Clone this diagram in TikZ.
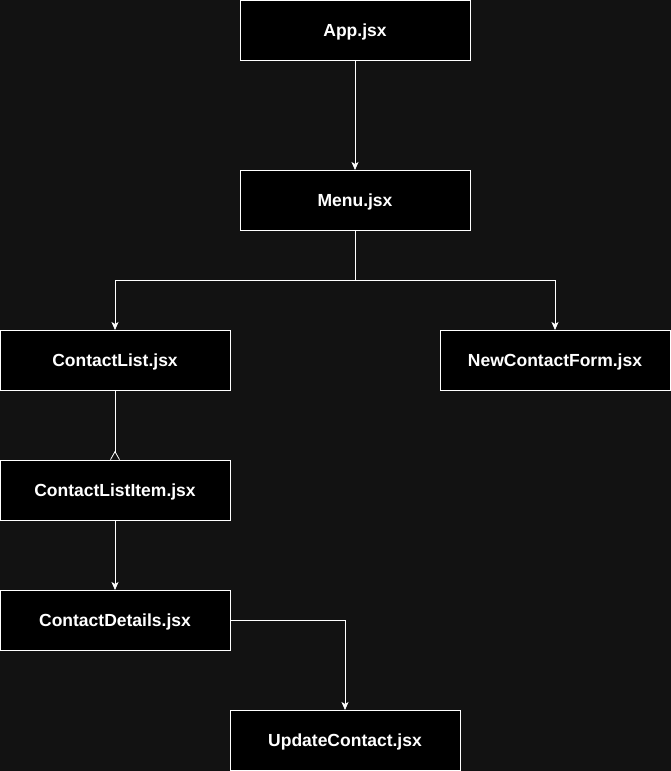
\documentclass[tikz,border=0pt]{standalone}
\usepackage{fontspec}
\setmainfont{Liberation Sans}
\usetikzlibrary{arrows.meta,positioning,calc}
\definecolor{canvasbg}{RGB}{18,18,18}
\tikzset{
    filebox/.style={draw=white, fill=black, text=white, font=\bfseries\fontsize{17.5}{20}\selectfont, minimum width=230pt, minimum height=60pt, inner sep=0pt, outer sep=0pt, text depth=0pt, line width=0.8pt},
    linkarrow/.style={draw=white, line width=0.8pt, -{Stealth[length=8pt, width=7pt, inset=2pt]}},
    manyarrow/.style={draw=white, line width=0.8pt, -{Straight Barb[reversed, length=8pt, width=9pt, line width=0.8pt]}}
}
\begin{document}
\begin{tikzpicture}[x=1pt, y=1pt, node distance=70pt]
    \fill[canvasbg] (0,0) rectangle (671,-771);
    \useasboundingbox (0,0) rectangle (671,-771);

    \node[filebox] (app) at (355,-30) {App.jsx};
    \node[filebox, below=110pt of app] (menu) {Menu.jsx};
    \node[filebox] (list) at (115,-360) {ContactList.jsx};
    \node[filebox] (newform) at (555,-360) {NewContactForm.jsx};
    \node[filebox, below=of list] (item) {ContactListItem.jsx};
    \node[filebox, below=of item] (details) {ContactDetails.jsx};
    \node[filebox] (update) at (345,-740) {UpdateContact.jsx};

    \coordinate (split) at ($(menu.south)+(0,-50)$);

    \draw[linkarrow] (app) -- (menu);
    \draw[linkarrow] (menu.south) -- (split) -| (list.north);
    \draw[linkarrow] (menu.south) -- (split) -| (newform.north);
    \draw[manyarrow] (list) -- (item);
    \draw[linkarrow] (item) -- (details);
    \draw[linkarrow] (details.east) -| (update.north);
\end{tikzpicture}
\end{document}
